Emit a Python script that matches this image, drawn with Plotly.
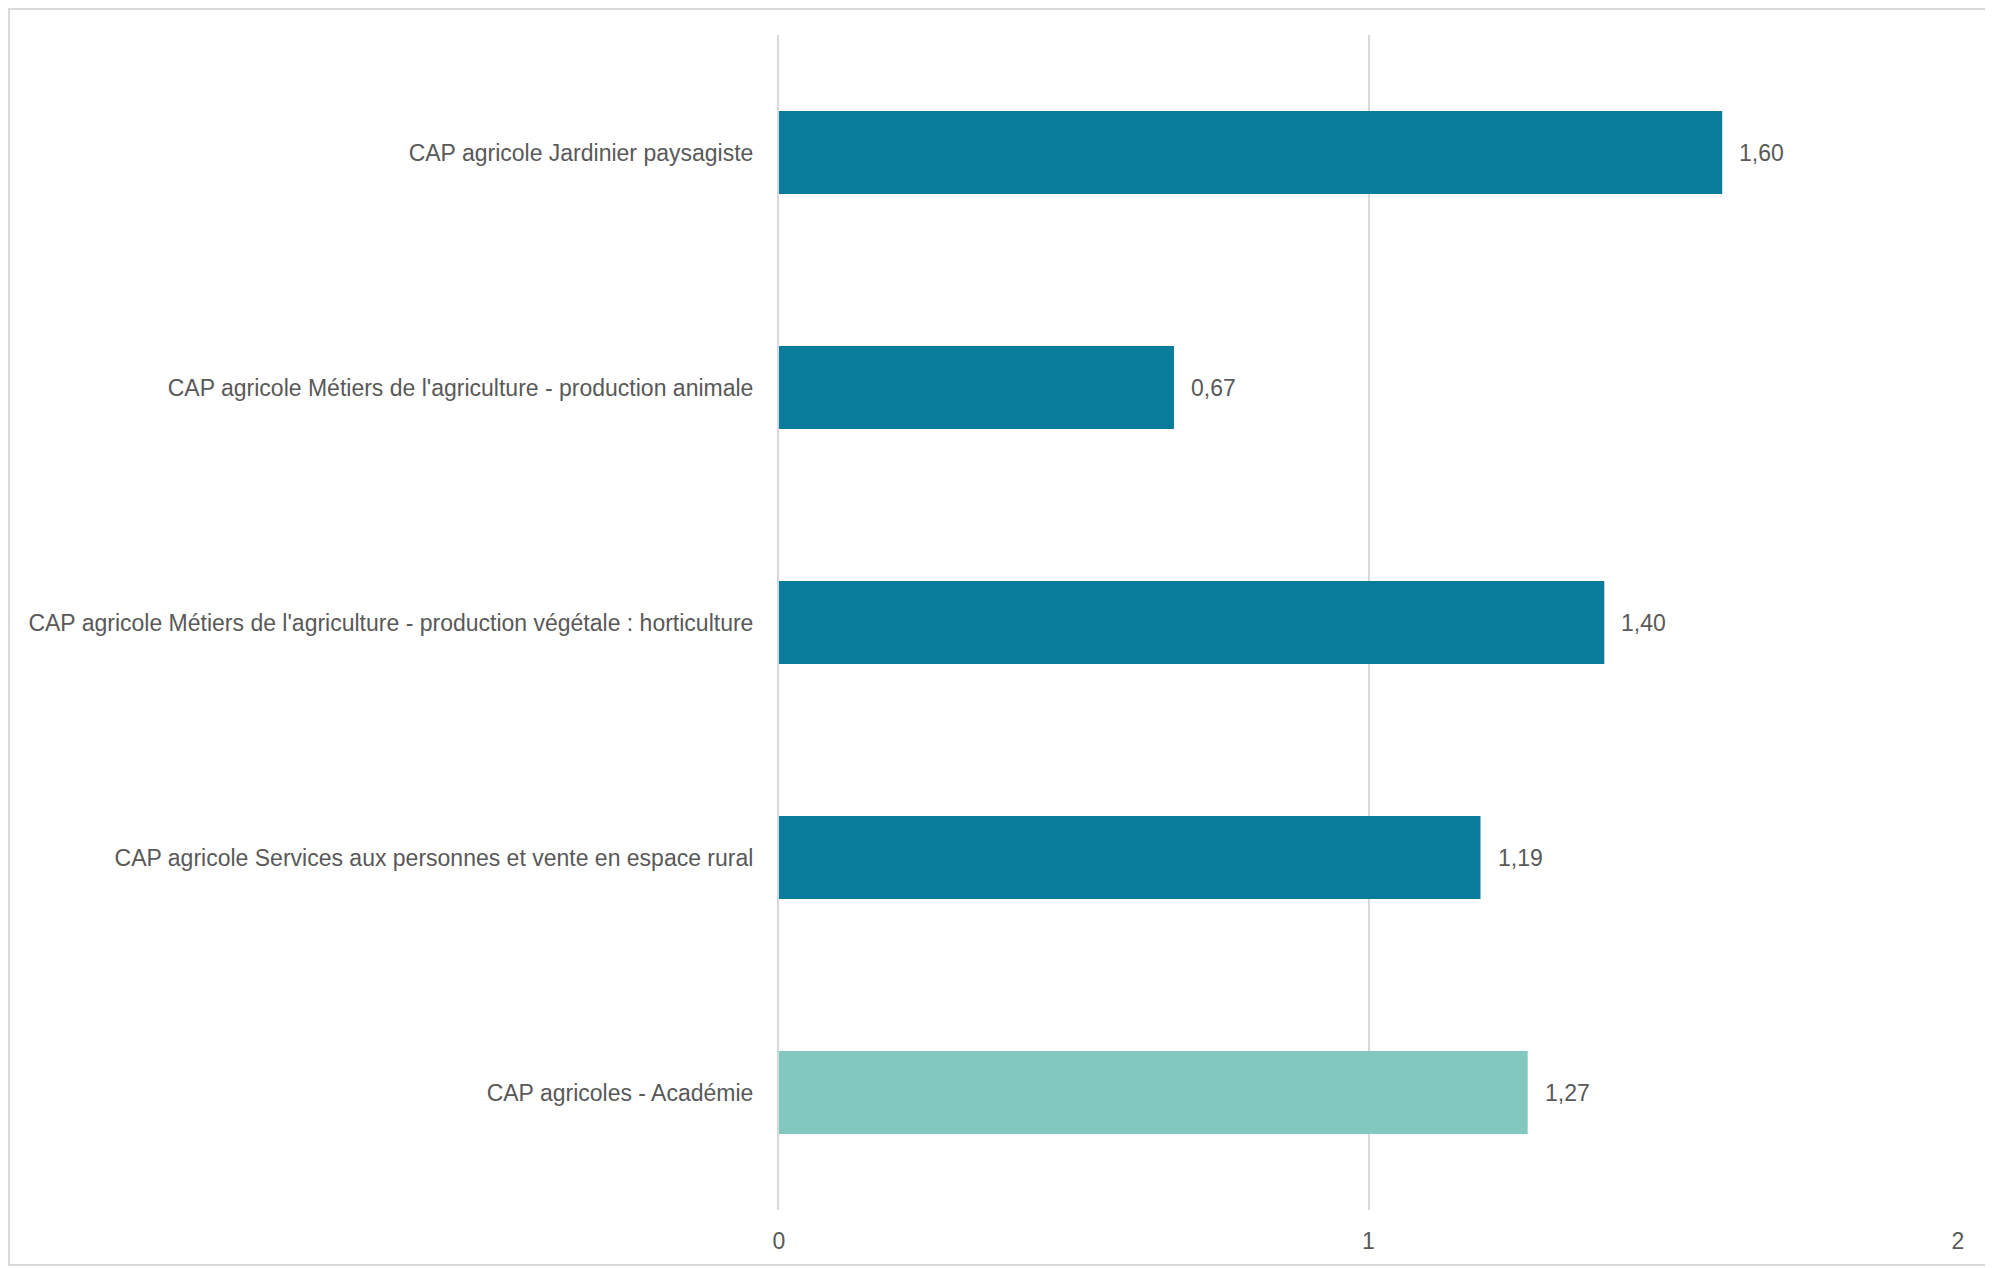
import plotly.graph_objects as go

categories = [
    "CAP agricole Jardinier paysagiste",
    "CAP agricole Métiers de l'agriculture - production animale",
    "CAP agricole Métiers de l'agriculture - production végétale : horticulture",
    "CAP agricole Services aux personnes et vente en espace rural",
    "CAP agricoles - Académie",
]
values = [1.60, 0.67, 1.40, 1.19, 1.27]
bar_colors = ["#087C9A", "#087C9A", "#087C9A", "#087C9A", "#82C8BE"]
x_ticks = [0, 1, 2]

FONT = "Liberation Sans Narrow, Arial Narrow, Liberation Sans, Arial, sans-serif"
TXT = "#595959"
FS = 23

fig = go.Figure()
fig.add_trace(go.Bar(
    y=categories,
    x=values,
    orientation="h",
    marker=dict(color=bar_colors, line=dict(width=0)),
    width=0.354,
    hoverinfo="skip",
))

for c, v in zip(categories, values):
    fig.add_annotation(
        x=v, y=c, xref="x", yref="y",
        text=f"{v:.2f}".replace(".", ","),
        showarrow=False, xanchor="left", xshift=15,
        font=dict(family=FONT, size=FS, color=TXT),
    )

# page has an 8px body margin; figure is sized to fit the window
W, H = 1985, 1260
L, R, T, B = 771, 35, 27, 58
pw, ph = W - L - R, H - T - B

def px(x):
    return (x - L) / pw

def py(y):
    return (H - B - y) / ph

fig.add_shape(
    type="rect", xref="paper", yref="paper",
    x0=px(1), x1=px(1980), y0=py(1257), y1=py(1),
    line=dict(color="#D9D9D9", width=2), fillcolor="rgba(0,0,0,0)",
    layer="below",
)

fig.update_layout(
    width=W, height=H,
    margin=dict(l=L, r=R, t=T, b=B, autoexpand=False),
    paper_bgcolor="white",
    plot_bgcolor="white",
    showlegend=False,
    separators=",.",
    font=dict(family=FONT, size=FS, color=TXT),
    xaxis=dict(
        range=[0, 2],
        tickvals=x_ticks,
        ticktext=[str(t) for t in x_ticks],
        showgrid=True, gridcolor="#D9D9D9", gridwidth=2,
        zeroline=False, showline=False,
        ticks="outside", ticklen=10, tickcolor="rgba(0,0,0,0)",
        tickfont=dict(family=FONT, size=FS, color=TXT),
        automargin=False,
        fixedrange=True,
    ),
    yaxis=dict(
        categoryorder="array",
        categoryarray=categories,
        autorange="reversed",
        showgrid=False, zeroline=False,
        showline=True, linecolor="#D9D9D9", linewidth=2,
        ticks="outside", ticklen=19, tickcolor="rgba(0,0,0,0)",
        tickfont=dict(family=FONT, size=FS, color=TXT),
        automargin=False,
        fixedrange=True,
    ),
)

fig.write_html("out.html")
